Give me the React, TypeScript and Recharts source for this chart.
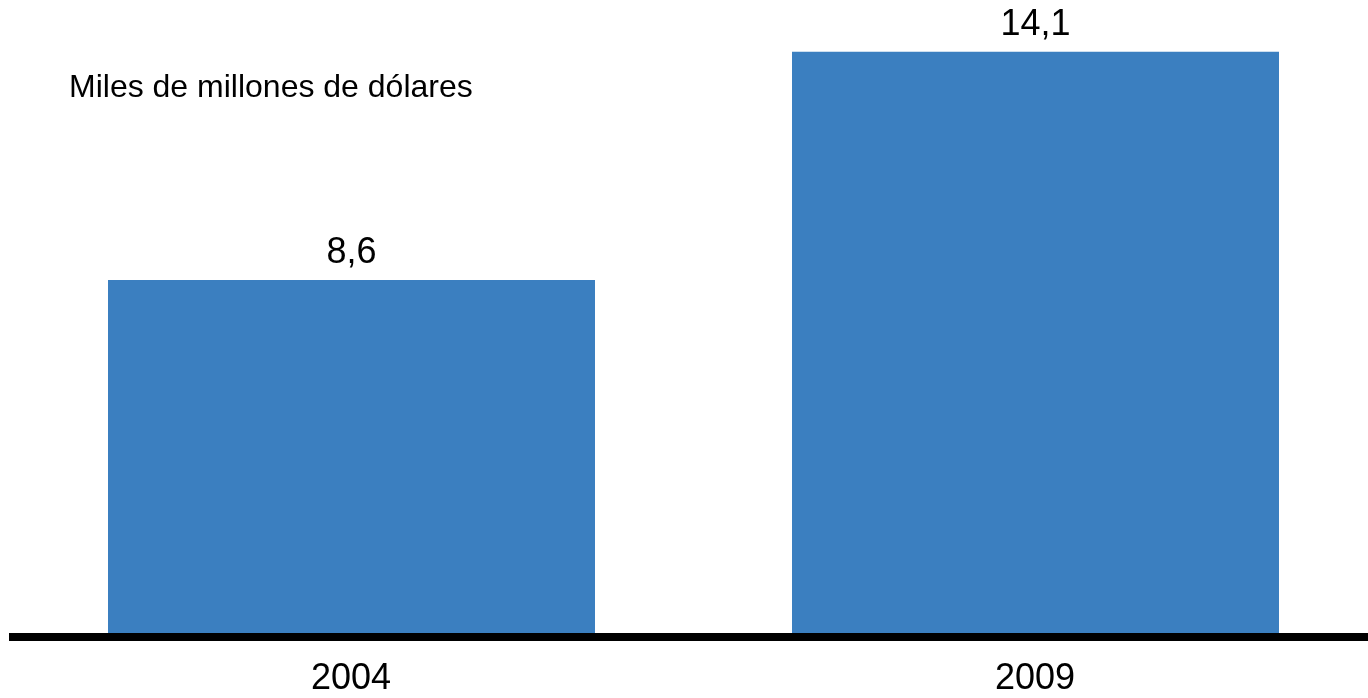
import { BarChart, Bar, XAxis, YAxis, LabelList } from 'recharts';

const years = ['2004', '2009'];
const values = [8.6, 14.1];
const unitLabel = 'Miles de millones de dólares';

const chartData = years.map((year, i) => ({ year, value: values[i] }));

const FONT = '"Liberation Sans", Arial, sans-serif';

const formatComma = (v: any) => String(v).replace('.', ',');

export default function App() {
  // pinned to the viewport corner so the body margin plays no part
  return (
    <div style={{ position: 'fixed', left: 0, top: 0, width: 1368, height: 698, overflow: 'hidden' }}>
      <BarChart
        width={1400}
        height={698}
        data={chartData}
        margin={{ top: 14.5, right: 23, left: 9, bottom: 0 }}
        barSize={487}
      >
        <YAxis hide domain={[0, 15]} />
        <Bar dataKey="value" fill="#3B7FC0" isAnimationActive={false}>
          <LabelList
            dataKey="value"
            position="top"
            offset={17}
            formatter={formatComma}
            style={{ fontSize: 36, fontFamily: FONT, fill: '#000' }}
          />
        </Bar>
        <XAxis
          dataKey="year"
          axisLine={{ stroke: '#000', strokeWidth: 8 }}
          tickLine={false}
          tickSize={0}
          tickMargin={26}
          height={61}
          tick={{ fontSize: 36, fontFamily: FONT, fill: '#000' }}
        />
      </BarChart>
      <div
        style={{
          position: 'absolute',
          left: 69,
          top: 68,
          fontFamily: FONT,
          fontSize: 32,
          lineHeight: '36px',
          color: '#000',
          whiteSpace: 'nowrap',
        }}
      >
        {unitLabel}
      </div>
    </div>
  );
}
